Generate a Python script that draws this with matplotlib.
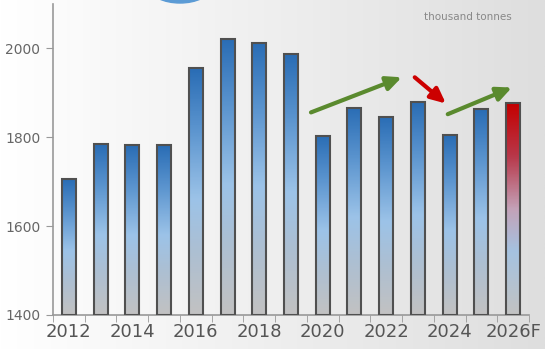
import numpy as np
import matplotlib.pyplot as plt
from matplotlib.colors import LinearSegmentedColormap
from matplotlib.patches import Ellipse

# Данные
years = ['2012', '2013', '2014', '2015', '2016', '2017', '2018', '2019',
         '2020', '2021', '2022', '2023', '2024', '2025', '2026F']
values = [1705, 1784, 1782, 1782, 1955, 2022, 2013, 1987,
          1804, 1866, 1846, 1879, 1805, 1863, 1877]
forecast = [False] * 14 + [True]

# Стрелки тренда: (x0, y0, x1, y1, цвет)
trends = [(7.63, 1856, 10.49, 1935, '#5a8a2e'),
          (10.90, 1935, 11.88, 1876, '#cc0000'),
          (11.94, 1852, 13.96, 1912, '#5a8a2e')]

blue = LinearSegmentedColormap.from_list(
    'blue', [(0.0, '#c2c2c2'), (0.25, '#adbfd2'), (0.47, '#9cc3e8'),
             (0.75, '#5c95cf'), (1.0, '#2a6db5')])
red = LinearSegmentedColormap.from_list(
    'red', [(0.0, '#c2c2c2'), (0.3, '#a5c2e0'), (0.5, '#c3a2b8'),
            (0.75, '#b8384a'), (1.0, '#c40000')])

fig = plt.figure(figsize=(5.45, 3.49), dpi=100)

# Фон: светлый градиент слева направо
bg = fig.add_axes([0, 0, 1, 1], zorder=-1)
grad = np.linspace(0, 1, 256).reshape(1, -1)
bg.imshow(grad, cmap=LinearSegmentedColormap.from_list('bg', ['#ffffff', '#dedede']),
          aspect='auto', extent=[0, 545, 0, 349])
bg.add_patch(Ellipse((180, 361), 60, 30, color='#5b9bd5'))
bg.set_xlim(0, 545)
bg.set_ylim(0, 349)
bg.axis('off')

ax = fig.add_axes([53 / 545, 34 / 349, 476 / 545, 311 / 349])
ax.patch.set_alpha(0)

x = np.arange(len(years))
w = 0.44
ymin, ymax = 1400, 2100
vgrad = np.linspace(0, 1, 200).reshape(-1, 1)
for i, v in enumerate(values):
    cmap = red if forecast[i] else blue
    ax.imshow(vgrad, cmap=cmap, origin='lower', aspect='auto',
              extent=[x[i] - w / 2, x[i] + w / 2, ymin, v], zorder=2)
ax.bar(x, np.array(values) - ymin, bottom=ymin, width=w, facecolor='none',
       edgecolor='#505050', linewidth=1.5, zorder=3)

for x0, y0, x1, y1, c in trends:
    ax.annotate('', xy=(x1, y1), xytext=(x0, y0),
                arrowprops=dict(arrowstyle='-|>,head_length=0.9,head_width=0.42',
                                color=c, lw=3.0, shrinkA=0, shrinkB=0), zorder=4)

ax.set_xlim(-0.5, len(years) - 0.5)
ax.set_ylim(ymin, ymax)
ax.set_yticks([1400, 1600, 1800, 2000])
ax.set_xticks(x[::2])
ax.set_xticklabels(years[::2])
ax.set_xticks(np.arange(-0.5, len(years)), minor=True)
ax.tick_params(axis='x', which='major', length=0, labelsize=13,
               labelcolor='#555555', pad=6)
ax.tick_params(axis='x', which='minor', length=5, color='#999999')
ax.tick_params(axis='y', length=5, color='#999999', labelsize=10,
               labelcolor='#666666', pad=4)
for s in ['top', 'right']:
    ax.spines[s].set_visible(False)
for s in ['left', 'bottom']:
    ax.spines[s].set_color('#999999')
    ax.spines[s].set_linewidth(1.2)

fig.text(512 / 545, 1 - 17 / 349, 'thousand tonnes', ha='right', va='center',
         fontsize=7.5, color='#888888')

fig.savefig('out.png', dpi=100)
